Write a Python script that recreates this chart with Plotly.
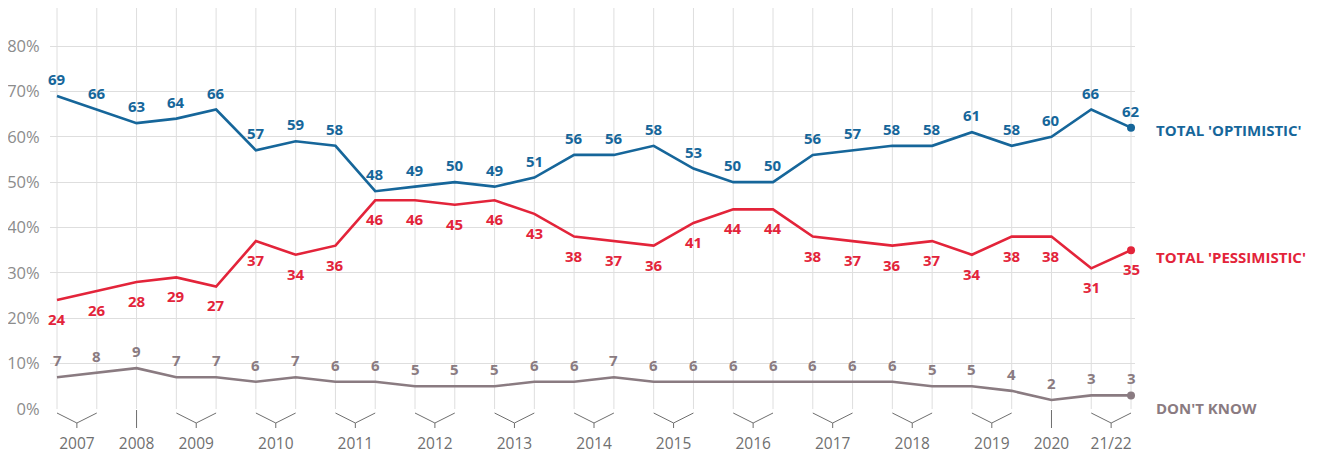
import plotly.graph_objects as go

# ---------------- data ----------------
optimistic = [69, 66, 63, 64, 66, 57, 59, 58, 48, 49, 50, 49, 51, 56, 56, 58, 53, 50, 50, 56, 57, 58, 58, 61, 58, 60, 66, 62]
pessimistic = [24, 26, 28, 29, 27, 37, 34, 36, 46, 46, 45, 46, 43, 38, 37, 36, 41, 44, 44, 38, 37, 36, 37, 34, 38, 38, 31, 35]
dont_know = [7, 8, 9, 7, 7, 6, 7, 6, 6, 5, 5, 5, 6, 6, 7, 6, 6, 6, 6, 6, 6, 6, 5, 5, 4, 2, 3, 3]
year_labels = ["2007", "2008", "2009", "2010", "2011", "2012", "2013", "2014", "2015", "2016", "2017", "2018", "2019", "2020", "21/22"]
year_pos = [0.5, 2, 3.5, 5.5, 7.5, 9.5, 11.5, 13.5, 15.5, 17.5, 19.5, 21.5, 23.5, 25, 26.5]
y_ticks = [0, 10, 20, 30, 40, 50, 60, 70, 80]
series_names = ["TOTAL 'OPTIMISTIC'", "TOTAL 'PESSIMISTIC'", "DON'T KNOW"]

# ---------------- style ----------------
BLUE = "#16669a"
RED = "#e3243a"
GREY = "#8a7b81"
GRID = "#dedede"
TICK = "#8c8c8c"
FONT = "Open Sans"

# page body has an 8px margin; figure is sized to fit inside the window
W, H = 1313, 448
M_L, M_R, M_T, M_B = 42, 186, 0, 47
plot_h = H - M_T - M_B
Y_TOP = plot_h / 4.5375  # keep 10% = 45.4 px

n = len(optimistic)
xs = list(range(n))

fig = go.Figure()

series = [
    (optimistic, BLUE, 17, series_names[0], -2),
    (pessimistic, RED, -19, series_names[1], -7),
    (dont_know, GREY, 17, series_names[2], -13),
]

annotations = []
for vals, col, off, name, rshift in series:
    fig.add_trace(go.Scatter(
        x=xs, y=vals, mode="lines", line=dict(color=col, width=2.6),
        hoverinfo="skip", showlegend=False, cliponaxis=False))
    fig.add_trace(go.Scatter(
        x=[xs[-1]], y=[vals[-1]], mode="markers",
        marker=dict(color=col, size=8), hoverinfo="skip",
        showlegend=False, cliponaxis=False))
    for xi, v in zip(xs, vals):
        annotations.append(dict(
            x=xi, y=v, xref="x", yref="y", text=str(v), showarrow=False,
            yshift=off, font=dict(family=FONT, size=15, color=col, weight="bold"),
            xanchor="center", yanchor="middle"))
    annotations.append(dict(
        x=(1146 - M_L) / (W - M_L - M_R), y=vals[-1], xref="paper", yref="y",
        text=name, showarrow=False, yshift=rshift, xanchor="left", yanchor="middle",
        font=dict(family=FONT, size=15, color=col, weight="bold")))

shapes = []
# vertical gridlines at each survey point
for xi in xs:
    shapes.append(dict(type="line", xref="x", yref="y", x0=xi, x1=xi, y0=0, y1=Y_TOP,
                       line=dict(color=GRID, width=1), layer="below"))

# bracket marks below the axis
px = lambda p: -p / plot_h  # pixels below axis -> paper coords
for p in year_pos:
    if float(p).is_integer():
        shapes.append(dict(type="line", xref="x", yref="paper", x0=p, x1=p,
                           y0=px(1), y1=px(19), line=dict(color="#6e6e6e", width=1)))
    else:
        a, b = p - 0.5, p + 0.5
        shapes.append(dict(type="path", xref="x", yref="paper",
                           path=f"M {a},{px(4)} L {p},{px(14)} L {b},{px(4)}",
                           line=dict(color="#6e6e6e", width=1)))
        shapes.append(dict(type="line", xref="x", yref="paper", x0=p, x1=p,
                           y0=px(14), y1=px(19), line=dict(color="#6e6e6e", width=1)))

fig.update_layout(
    width=W, height=H,
    margin=dict(l=M_L, r=M_R, t=M_T, b=M_B),
    paper_bgcolor="white", plot_bgcolor="white",
    shapes=shapes, annotations=annotations,
    xaxis=dict(range=[-0.176, 27.1], tickmode="array", tickvals=year_pos, ticktext=year_labels,
               showgrid=False, zeroline=False, showline=False,
               ticks="outside", ticklen=20, tickcolor="rgba(0,0,0,0)",
               tickfont=dict(family=FONT, size=15.5, color="#707070")),
    yaxis=dict(range=[0, Y_TOP], tickmode="array", tickvals=y_ticks,
               ticktext=[f"{t}%" for t in y_ticks],
               showgrid=True, gridcolor=GRID, gridwidth=1, zeroline=False, showline=False,
               ticks="outside", ticklen=6, tickcolor="rgba(0,0,0,0)",
               tickfont=dict(family=FONT, size=16.5, color=TICK)),
)

fig.write_html("out.html")
